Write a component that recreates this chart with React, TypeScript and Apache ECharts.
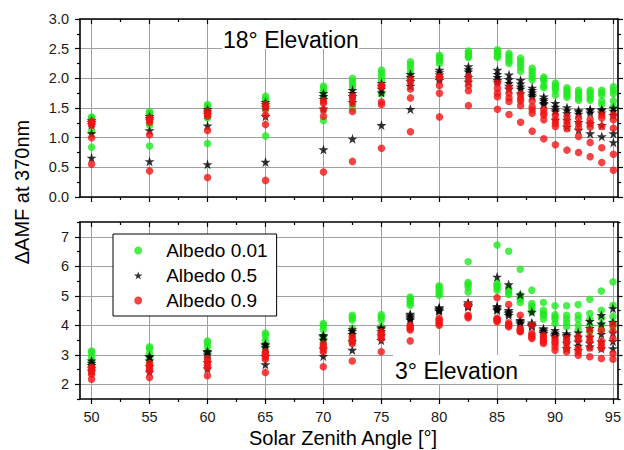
import React, { useEffect, useRef } from 'react';
import * as echarts from 'echarts';

// Solar zenith angles (x positions of the data columns)
const sza = [50, 55, 60, 65, 70, 72.5, 75, 77.5, 80, 82.5, 85, 86, 87, 88, 89, 90, 91, 92, 93, 94, 95];

// Axis ticks
const xMajorTicks = [50, 55, 60, 65, 70, 75, 80, 85, 90, 95];
const xMinorTicks = [52.5, 57.5, 62.5, 67.5, 72.5, 77.5, 82.5, 87.5, 92.5];
const bottomYMajor = [2, 3, 4, 5, 6, 7];
const bottomYMinor = [1.5, 2.5, 3.5, 4.5, 5.5, 6.5, 7.5];

const seriesNames = ['Albedo 0.01', 'Albedo 0.5', 'Albedo 0.9'];

// 18° elevation, delta AMF per SZA column
const top001 = [
  [1.35, 1.33, 1.30, 1.11, 0.84], [1.44, 1.41, 1.37, 1.21, 0.86], [1.56, 1.52, 1.47, 1.33, 0.90],
  [1.70, 1.65, 1.60, 1.48, 1.03], [1.87, 1.83, 1.77, 1.69, 1.29], [2.00, 1.95, 1.90, 1.85, 1.49],
  [2.14, 2.09, 2.04, 1.97, 1.74], [2.28, 2.23, 2.17, 2.10, 2.03], [2.39, 2.36, 2.33, 2.30, 2.25],
  [2.46, 2.43, 2.40, 2.37, 2.35], [2.48, 2.45, 2.42, 2.38, 2.35], [2.42, 2.38, 2.34, 2.29, 2.25],
  [2.34, 2.29, 2.24, 2.19, 2.12], [2.17, 2.12, 2.07, 2.02, 1.97], [2.02, 1.99, 1.96, 1.88, 1.84],
  [1.92, 1.88, 1.84, 1.80, 1.72], [1.84, 1.80, 1.76, 1.72, 1.68], [1.80, 1.76, 1.72, 1.67, 1.63],
  [1.80, 1.76, 1.72, 1.67, 1.63], [1.80, 1.76, 1.72, 1.62, 1.56], [1.86, 1.80, 1.74, 1.62, 1.52],
];
const top05 = [
  [1.29, 1.26, 1.22, 1.07, 0.66], [1.36, 1.33, 1.30, 1.12, 0.60], [1.48, 1.44, 1.40, 1.20, 0.55],
  [1.60, 1.56, 1.52, 1.36, 0.59], [1.75, 1.70, 1.65, 1.49, 0.80], [1.80, 1.75, 1.70, 1.60, 0.98],
  [1.92, 1.87, 1.82, 1.76, 1.21], [2.07, 2.02, 1.95, 1.87, 1.48], [2.14, 2.10, 2.06, 2.01, 1.97],
  [2.20, 2.15, 2.11, 2.02, 1.94], [2.14, 2.07, 2.02, 1.97, 1.94], [2.06, 1.98, 1.92, 1.87, 1.82],
  [1.97, 1.91, 1.86, 1.82, 1.74], [1.84, 1.80, 1.76, 1.72, 1.69], [1.69, 1.65, 1.62, 1.58, 1.56],
  [1.58, 1.52, 1.47, 1.44, 1.30], [1.51, 1.46, 1.41, 1.30, 1.18], [1.46, 1.44, 1.40, 1.26, 1.13],
  [1.48, 1.46, 1.42, 1.24, 1.07], [1.48, 1.46, 1.42, 1.21, 1.02], [1.50, 1.45, 1.38, 1.07, 0.92],
];
const top09 = [
  [1.27, 1.25, 1.21, 1.00, 0.55], [1.33, 1.30, 1.26, 1.05, 0.44], [1.44, 1.40, 1.36, 1.12, 0.33],
  [1.56, 1.50, 1.38, 1.22, 0.28], [1.62, 1.58, 1.47, 1.36, 0.42], [1.70, 1.66, 1.58, 1.44, 0.60],
  [1.88, 1.86, 1.60, 1.56, 0.82], [1.98, 1.94, 1.82, 1.67, 1.10], [2.03, 2.01, 1.88, 1.75, 1.35],
  [2.03, 1.96, 1.88, 1.79, 1.54], [1.92, 1.83, 1.75, 1.69, 1.48], [1.84, 1.75, 1.67, 1.61, 1.39],
  [1.73, 1.66, 1.62, 1.54, 1.26], [1.62, 1.52, 1.47, 1.41, 1.11], [1.48, 1.42, 1.38, 1.30, 0.98],
  [1.38, 1.30, 1.24, 1.19, 0.88], [1.36, 1.28, 1.22, 1.15, 0.79], [1.33, 1.24, 1.16, 1.02, 0.75],
  [1.30, 1.24, 1.18, 0.92, 0.68], [1.38, 1.33, 1.19, 0.83, 0.58], [1.38, 1.30, 1.16, 0.72, 0.45],
];

// 3° elevation
const bot001 = [
  [3.13, 3.08, 2.93, 2.80, 2.67], [3.27, 3.20, 3.04, 2.90, 2.76], [3.47, 3.40, 3.27, 3.10, 2.90],
  [3.74, 3.65, 3.49, 3.30, 3.07], [4.06, 3.98, 3.86, 3.62, 3.44], [4.34, 4.26, 4.18, 3.90, 3.72],
  [4.36, 4.28, 4.18, 3.95, 3.75], [4.96, 4.90, 4.82, 4.75, 4.68], [5.34, 5.28, 5.19, 5.10, 5.02],
  [6.15, 5.45, 5.38, 5.30, 5.13], [6.72, 5.42, 5.35, 5.28, 5.19], [6.51, 5.27, 5.20, 5.13, 5.04],
  [5.90, 5.02, 4.95, 4.88, 4.77], [5.19, 4.74, 4.65, 4.57, 4.45], [4.77, 4.51, 4.40, 4.34, 4.21],
  [4.66, 4.36, 4.28, 4.21, 4.06], [4.66, 4.34, 4.21, 4.08, 3.95], [4.70, 4.34, 4.20, 4.00, 3.83],
  [4.88, 4.40, 4.20, 4.00, 3.78], [5.16, 4.51, 4.25, 4.02, 3.83], [5.47, 4.68, 4.30, 4.09, 3.95],
];
const bot05 = [
  [2.80, 2.72, 2.65, 2.55, 2.45], [2.95, 2.93, 2.80, 2.60, 2.42], [3.12, 3.08, 3.00, 2.75, 2.53],
  [3.37, 3.33, 3.25, 2.95, 2.67], [3.66, 3.62, 3.50, 3.20, 2.95], [3.86, 3.80, 3.70, 3.45, 3.16],
  [3.93, 3.88, 3.80, 3.65, 3.49], [4.38, 4.33, 4.28, 4.22, 4.18], [4.60, 4.57, 4.54, 4.50, 4.48],
  [4.77, 4.72, 4.68, 4.66, 4.62], [5.64, 4.65, 4.60, 4.55, 4.51], [5.38, 4.51, 4.45, 4.40, 4.34],
  [5.04, 4.17, 4.13, 4.09, 4.05], [4.45, 4.09, 4.04, 4.00, 3.96], [3.89, 3.85, 3.80, 3.75, 3.72],
  [3.83, 3.75, 3.70, 3.65, 3.61], [3.72, 3.66, 3.61, 3.40, 3.21], [3.75, 3.60, 3.44, 3.30, 3.15],
  [4.14, 3.90, 3.60, 3.40, 3.27], [4.34, 4.05, 3.70, 3.44, 3.21], [4.57, 4.10, 3.75, 3.46, 3.21],
];
const bot09 = [
  [2.58, 2.53, 2.42, 2.34, 2.17], [2.70, 2.62, 2.53, 2.45, 2.23], [2.87, 2.75, 2.64, 2.55, 2.29],
  [3.10, 3.02, 2.93, 2.85, 2.40], [3.36, 3.28, 3.21, 3.10, 2.59], [3.61, 3.52, 3.45, 3.38, 2.79],
  [3.78, 3.70, 3.62, 3.55, 3.10], [4.00, 3.95, 3.89, 3.84, 3.47], [4.23, 4.18, 4.12, 4.05, 4.00],
  [4.70, 4.66, 4.34, 4.30, 4.25], [4.93, 4.24, 4.20, 4.16, 4.12], [4.70, 4.08, 4.03, 3.98, 3.95],
  [4.34, 3.89, 3.84, 3.80, 3.78], [4.00, 3.72, 3.66, 3.60, 3.55], [3.66, 3.58, 3.50, 3.44, 3.38],
  [3.55, 3.45, 3.38, 3.27, 3.15], [3.55, 3.45, 3.38, 3.21, 3.10], [3.61, 3.49, 3.21, 3.10, 2.98],
  [3.83, 3.60, 3.46, 3.23, 2.93], [3.83, 3.46, 3.33, 3.21, 2.87], [4.02, 3.80, 3.53, 3.04, 2.85],
];

const FONT = "'Liberation Sans', Arial, sans-serif";
const STAR = 'path://M50,0 L61.8,35.3 L98.5,35.3 L68.9,57.1 L80.2,92.5 L50,70.6 L19.8,92.5 L31.1,57.1 L1.5,35.3 L38.2,35.3 Z';
const GREEN = '#1fe81f';
const RED = '#f41414';
const BLACK = '#000000';
const GRID_COLOR = '#a0a0a0';

function toPoints(cols: number[][]) {
  const out: number[][] = [];
  cols.forEach((vals, i) => vals.forEach((v) => out.push([sza[i], v])));
  return out;
}

const X_MIN = 49;
const X_MAX = 95.4;

function xAxis(gridIndex: number, position: 'top' | 'bottom', minor: boolean, labels: boolean, split: boolean) {
  return {
    type: 'value', gridIndex, position, min: X_MIN, max: X_MAX,
    axisLine: { show: !minor, lineStyle: { color: '#000', width: 1.6 } },
    axisTick: {
      show: true, inside: position === 'top', length: minor ? 3 : 5,
      customValues: minor ? xMinorTicks : xMajorTicks,
      lineStyle: { color: '#000', width: 1.2 },
    },
    axisLabel: labels
      ? { show: true, customValues: xMajorTicks, margin: 10, fontSize: 14.5, color: '#1a1a1a', fontFamily: FONT }
      : { show: false },
    splitLine: { show: split, lineStyle: { color: GRID_COLOR, width: 1 } },
    minorTick: { show: false },
  };
}

export default function App() {
  const ref = useRef<HTMLDivElement>(null);
  useEffect(() => {
    if (!ref.current) return;
    const chart = echarts.init(ref.current, null, { renderer: 'svg' });

    const yTopCommon = {
      type: 'value', gridIndex: 0, min: 0, max: 3, interval: 0.5,
      axisLine: { show: true, lineStyle: { color: '#000', width: 1.6 } },
      axisTick: { show: true, length: 5, lineStyle: { color: '#000', width: 1.2 } },
      minorTick: { show: true, splitNumber: 2, length: 3, lineStyle: { color: '#000', width: 1.2 } },
    };
    const yBotMajor = (position: 'left' | 'right', labels: boolean) => ({
      type: 'value', gridIndex: 1, position, min: 1.5, max: 7.5,
      axisLine: { show: true, lineStyle: { color: '#000', width: 1.6 } },
      axisTick: { show: true, length: 5, customValues: bottomYMajor, lineStyle: { color: '#000', width: 1.2 } },
      axisLabel: labels
        ? { show: true, customValues: bottomYMajor, margin: 11, fontSize: 14.5, color: '#1a1a1a', fontFamily: FONT }
        : { show: false },
      splitLine: { show: labels, lineStyle: { color: GRID_COLOR, width: 1 } },
    });
    const yBotMinor = (position: 'left' | 'right') => ({
      type: 'value', gridIndex: 1, position, min: 1.5, max: 7.5,
      axisLine: { show: false },
      axisTick: { show: true, length: 3, customValues: bottomYMinor, lineStyle: { color: '#000', width: 1.2 } },
      axisLabel: { show: false },
      splitLine: { show: false },
    });

    const mk = (name: string, cols: number[][], xi: number, yi: number, kind: number) => ({
      name, type: 'scatter', xAxisIndex: xi, yAxisIndex: yi,
      data: toPoints(cols),
      symbol: kind === 1 ? STAR : 'circle',
      symbolSize: kind === 1 ? 10 : 7.5,
      itemStyle: { color: kind === 0 ? GREEN : kind === 1 ? BLACK : RED },
      z: 3 + kind,
    });

    chart.setOption({
      animation: false,
      backgroundColor: '#ffffff',
      textStyle: { fontFamily: FONT },
      grid: [
        { left: 80, top: 19, width: 538, height: 178 },
        { left: 80, top: 222, width: 538, height: 177 },
      ],
      xAxis: [
        xAxis(0, 'bottom', false, false, true),
        xAxis(0, 'bottom', true, false, false),
        xAxis(0, 'top', false, false, false),
        xAxis(0, 'top', true, false, false),
        xAxis(1, 'bottom', false, true, true),
        xAxis(1, 'bottom', true, false, false),
        xAxis(1, 'top', false, false, false),
        xAxis(1, 'top', true, false, false),
      ],
      yAxis: [
        {
          ...yTopCommon, position: 'left',
          axisLabel: { show: true, margin: 11, fontSize: 14.5, color: '#1a1a1a', fontFamily: FONT, formatter: (v: number) => v.toFixed(1) },
          splitLine: { show: true, lineStyle: { color: GRID_COLOR, width: 1 } },
        },
        { ...yTopCommon, position: 'right', axisLabel: { show: false }, splitLine: { show: false } },
        yBotMajor('left', true),
        yBotMinor('left'),
        yBotMajor('right', false),
        yBotMinor('right'),
      ],
      legend: {
        orient: 'vertical', left: 113, top: 234,
        padding: [7, 9, 6, 21], itemWidth: 30, itemHeight: 8, itemGap: 6,
        backgroundColor: '#fff', borderColor: '#000', borderWidth: 1,
        data: seriesNames,
        textStyle: { fontSize: 19, color: '#000', fontFamily: FONT, padding: [0, 0, 0, 8] },
        z: 20,
      },
      graphic: [
        { type: 'rect', z: 10, shape: { x: 222, y: 20, width: 137, height: 29 }, style: { fill: '#fff' } },
        { type: 'text', z: 11, x: 223, y: 40, style: { text: '18° Elevation', fontSize: 23, fontFamily: FONT, fill: '#000', textVerticalAlign: 'middle' } },
        { type: 'rect', z: 10, shape: { x: 393, y: 355, width: 126, height: 29 }, style: { fill: '#fff' } },
        { type: 'text', z: 11, x: 395, y: 371, style: { text: '3° Elevation', fontSize: 23, fontFamily: FONT, fill: '#000', textVerticalAlign: 'middle' } },
        { type: 'text', z: 11, x: 22, y: 192, rotation: Math.PI / 2, style: { text: 'ΔAMF at 370nm', fontSize: 20, fontFamily: FONT, fill: '#000', textAlign: 'center', textVerticalAlign: 'middle' } },
        { type: 'text', z: 11, x: 343, y: 438, style: { text: 'Solar Zenith Angle [°]', fontSize: 20, fontFamily: FONT, fill: '#000', textAlign: 'center', textVerticalAlign: 'middle' } },
      ],
      series: [
        mk(seriesNames[0], top001, 0, 0, 0),
        mk(seriesNames[1], top05, 0, 0, 1),
        mk(seriesNames[2], top09, 0, 0, 2),
        mk(seriesNames[0], bot001, 4, 2, 0),
        mk(seriesNames[1], bot05, 4, 2, 1),
        mk(seriesNames[2], bot09, 4, 2, 2),
      ],
    });
    return () => chart.dispose();
  }, []);
  return <div ref={ref} style={{ width: 624, height: 450, position: 'absolute', left: 0, top: 0 }} />;
}
